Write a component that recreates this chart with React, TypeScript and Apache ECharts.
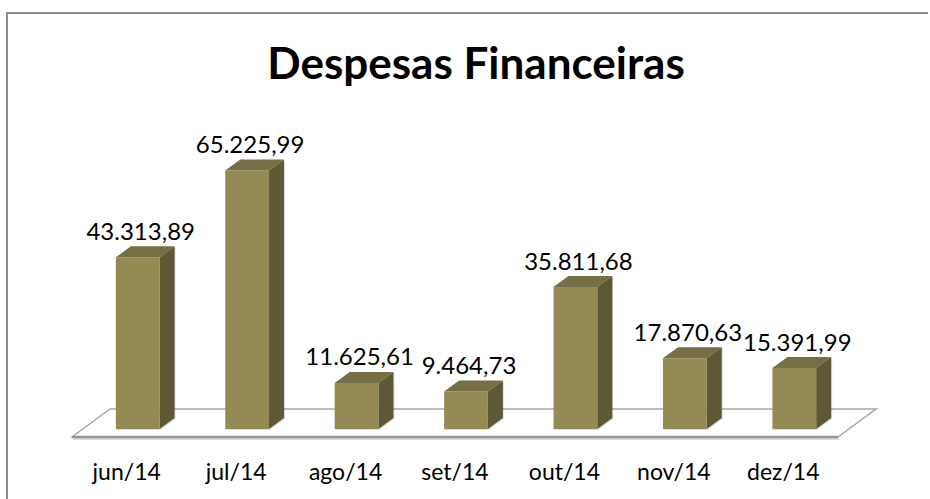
import React, { useEffect, useRef } from "react";
import * as echarts from "echarts";

const categories = ["jun/14", "jul/14", "ago/14", "set/14", "out/14", "nov/14", "dez/14"];
const values = [43313.89, 65225.99, 11625.61, 9464.73, 35811.68, 17870.63, 15391.99];
const titleText = "Despesas Financeiras";

function fmtBR(v: number): string {
  const fixed = v.toFixed(2);
  const [intPart, dec] = fixed.split(".");
  const withDots = intPart.replace(/\B(?=(\d{3})+(?!\d))/g, ".");
  return withDots + "," + dec;
}

const FONT = "Lato, 'Noto Sans', sans-serif";
const FRONT = "#948A54";
const SIDE = "#5F5834";
const TOP = "#766E44";
const DX = 15;
const DY = -11;

export default function App() {
  const ref = useRef<HTMLDivElement>(null);
  useEffect(() => {
    if (!ref.current) return;
    document.body.style.margin = "0";
    document.body.style.overflow = "hidden";
    const chart = echarts.init(ref.current, undefined, { renderer: "svg" });
    const option: any = {
      animation: false,
      backgroundColor: "#ffffff",
      grid: { left: 83, width: 766, top: 112, height: 317 },
      xAxis: {
        type: "category",
        data: categories,
        show: false,
      },
      yAxis: { type: "value", min: 0, max: 80000, show: false },
      graphic: [
        {
          type: "line",
          shape: { x1: 6, y1: 13, x2: 928, y2: 13 },
          style: { stroke: "#8c8c8c", lineWidth: 2 },
          silent: true,
          z: 100,
        },
        {
          type: "line",
          shape: { x1: 7, y1: 12, x2: 7, y2: 499 },
          style: { stroke: "#8c8c8c", lineWidth: 2 },
          silent: true,
          z: 100,
        },
        {
          type: "text",
          x: 476,
          y: 62,
          style: {
            text: titleText,
            font: "bold 44px " + FONT,
            fill: "#000",
            textAlign: "center",
            textVerticalAlign: "middle",
          },
          silent: true,
        },
      ],
      series: [
        {
          type: "custom",
          name: "floor",
          data: [[0, 0]],
          clip: false,
          z: 1,
          silent: true,
          renderItem: (params: any) => {
            const cs = params.coordSys;
            const yb = cs.y + cs.height;
            const fy = yb + 8;
            const by = yb - 20;
            const fx0 = cs.x - 11;
            const fx1 = cs.x + cs.width - 11;
            const bx0 = cs.x + 27;
            const bx1 = cs.x + cs.width + 27;
            return {
              type: "group",
              children: [
                {
                  type: "polygon",
                  shape: { points: [[fx0, fy], [bx0, by], [bx1, by], [fx1, fy]] },
                  style: { fill: "#ffffff", stroke: "#a6a6a6", lineWidth: 1.5 },
                },
                {
                  type: "line",
                  shape: { x1: fx0 + 1, y1: fy + 2, x2: fx1 + 1, y2: fy + 2 },
                  style: { stroke: "#dcdcdc", lineWidth: 2 },
                },
                {
                  type: "line",
                  shape: { x1: fx0, y1: fy, x2: fx1, y2: fy },
                  style: { stroke: "#959595", lineWidth: 2.5 },
                },
              ],
            };
          },
        },
        {
          type: "custom",
          name: "bars",
          data: values.map((v, i) => [i, v]),
          clip: false,
          z: 2,
          renderItem: (params: any, api: any) => {
            const idx = api.value(0);
            const v = api.value(1);
            const base = api.coord([idx, 0]);
            const top = api.coord([idx, v]);
            const bw = api.size([1, 0])[0] * 0.4;
            const x0 = base[0] - bw / 2;
            const x1 = base[0] + bw / 2;
            const yb = base[1];
            const yt = top[1];
            return {
              type: "group",
              children: [
                {
                  type: "polygon",
                  shape: {
                    points: [[x1 + 1, yb + 1], [x1 + DX + 1, yb + DY + 1], [x1 + DX + 1, yt + DY + 1], [x0 + 1, yt + 1], [x0 + 1, yb + 1]],
                  },
                  style: { fill: "rgba(0,0,0,0.12)" },
                },
                {
                  type: "polygon",
                  shape: {
                    points: [[x1, yt], [x1 + DX, yt + DY], [x1 + DX, yb + DY], [x1, yb]],
                  },
                  style: { fill: SIDE },
                },
                {
                  type: "polygon",
                  shape: {
                    points: [[x0, yt], [x0 + DX, yt + DY], [x1 + DX, yt + DY], [x1, yt]],
                  },
                  style: { fill: TOP },
                },
                {
                  type: "rect",
                  shape: { x: x0, y: yt, width: bw, height: yb - yt },
                  style: { fill: FRONT },
                },
                {
                  type: "text",
                  x: base[0] + 3,
                  y: yt + DY - 16,
                  style: {
                    text: fmtBR(v),
                    font: "24px " + FONT,
                    fill: "#000",
                    textAlign: "center",
                    textVerticalAlign: "middle",
                  },
                },
                {
                  type: "text",
                  x: base[0] - 11,
                  y: 471,
                  style: {
                    text: categories[idx],
                    font: "23px " + FONT,
                    fill: "#000",
                    textAlign: "center",
                    textVerticalAlign: "middle",
                  },
                },
              ],
            };
          },
        },
      ],
    };
    chart.setOption(option);
    return () => chart.dispose();
  }, []);
  return (
    <div
      ref={ref}
      style={{ position: "fixed", left: 0, top: 0, width: 930, height: 499 }}
    />
  );
}
